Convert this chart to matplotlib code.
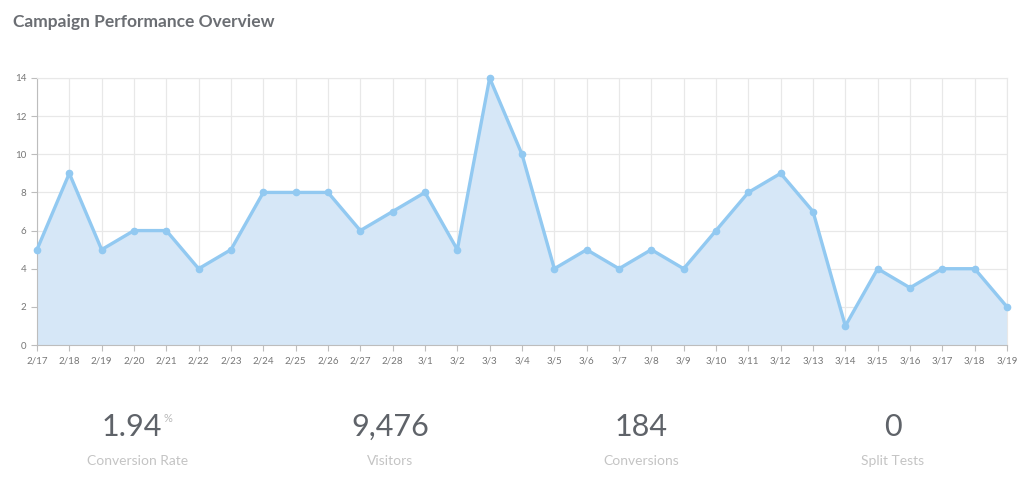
import matplotlib
matplotlib.use("Agg")
import matplotlib.pyplot as plt

plt.rcParams['font.family'] = ['Lato', 'DejaVu Sans']

# chart data
dates = ['2/17', '2/18', '2/19', '2/20', '2/21', '2/22', '2/23', '2/24', '2/25', '2/26',
         '2/27', '2/28', '3/1', '3/2', '3/3', '3/4', '3/5', '3/6', '3/7', '3/8',
         '3/9', '3/10', '3/11', '3/12', '3/13', '3/14', '3/15', '3/16', '3/17', '3/18', '3/19']
conversions = [5, 9, 5, 6, 6, 4, 5, 8, 8, 8,
               6, 7, 8, 5, 14, 10, 4, 5, 4, 5,
               4, 6, 8, 9, 7, 1, 4, 3, 4, 4, 2]
y_ticks = [0, 2, 4, 6, 8, 10, 12, 14]

# summary stats below the chart
stat_values = ['1.94', '9,476', '184', '0']
stat_labels = ['Conversion Rate', 'Visitors', 'Conversions', 'Split Tests']

fig = plt.figure(figsize=(10.24, 4.82), dpi=100)
ax = fig.add_axes([0.0361, 0.2842, 0.9473, 0.554])

x = list(range(len(dates)))
ax.fill_between(x, conversions, 0, color='#d6e7f7', zorder=2)
ax.plot(x, conversions, color='#92c9f1', lw=2.4, marker='o', ms=4.5, zorder=3, clip_on=False)

ax.set_xlim(0, len(dates) - 1)
ax.set_ylim(0, 14)
ax.set_xticks(x)
ax.set_xticklabels(dates)
ax.set_yticks(y_ticks)
ax.grid(True, color='#e8e8e8', lw=0.9, zorder=0)
for s in ['top', 'right']:
    ax.spines[s].set_color('#e8e8e8')
for s in ['left', 'bottom']:
    ax.spines[s].set_color('#bdbdbd')
ax.tick_params(axis='both', labelsize=7, colors='#777777', length=4, color='#bdbdbd')
ax.tick_params(axis='x', pad=4)

fig.text(13 / 1024, 1 - 22 / 482, 'Campaign Performance Overview', fontsize=12.5,
         fontweight='bold', color='#6b6e73', va='center', ha='left')

renderer = fig.canvas.get_renderer()
centers = [138, 390, 641, 893]
for cx, val, lab in zip(centers, stat_values, stat_labels):
    if lab == 'Conversion Rate':
        # number sits a little left so the % sign fits beside it
        t = fig.text((cx - 6) / 1024, 1 - 427 / 482, val, fontsize=22, color='#5f6369',
                     ha='center', va='center')
        bb = t.get_window_extent(renderer)
        fig.text((bb.x1 + 1) / 1024, 1 - 418 / 482, '%', fontsize=8, color='#b8b8b8',
                 ha='left', va='center')
    else:
        fig.text(cx / 1024, 1 - 427 / 482, val, fontsize=22, color='#5f6369',
                 ha='center', va='center')
    fig.text(cx / 1024, 1 - 461 / 482, lab, fontsize=10, color='#c4c4c4',
             ha='center', va='center')

fig.savefig('out.png', dpi=100, facecolor='white')
